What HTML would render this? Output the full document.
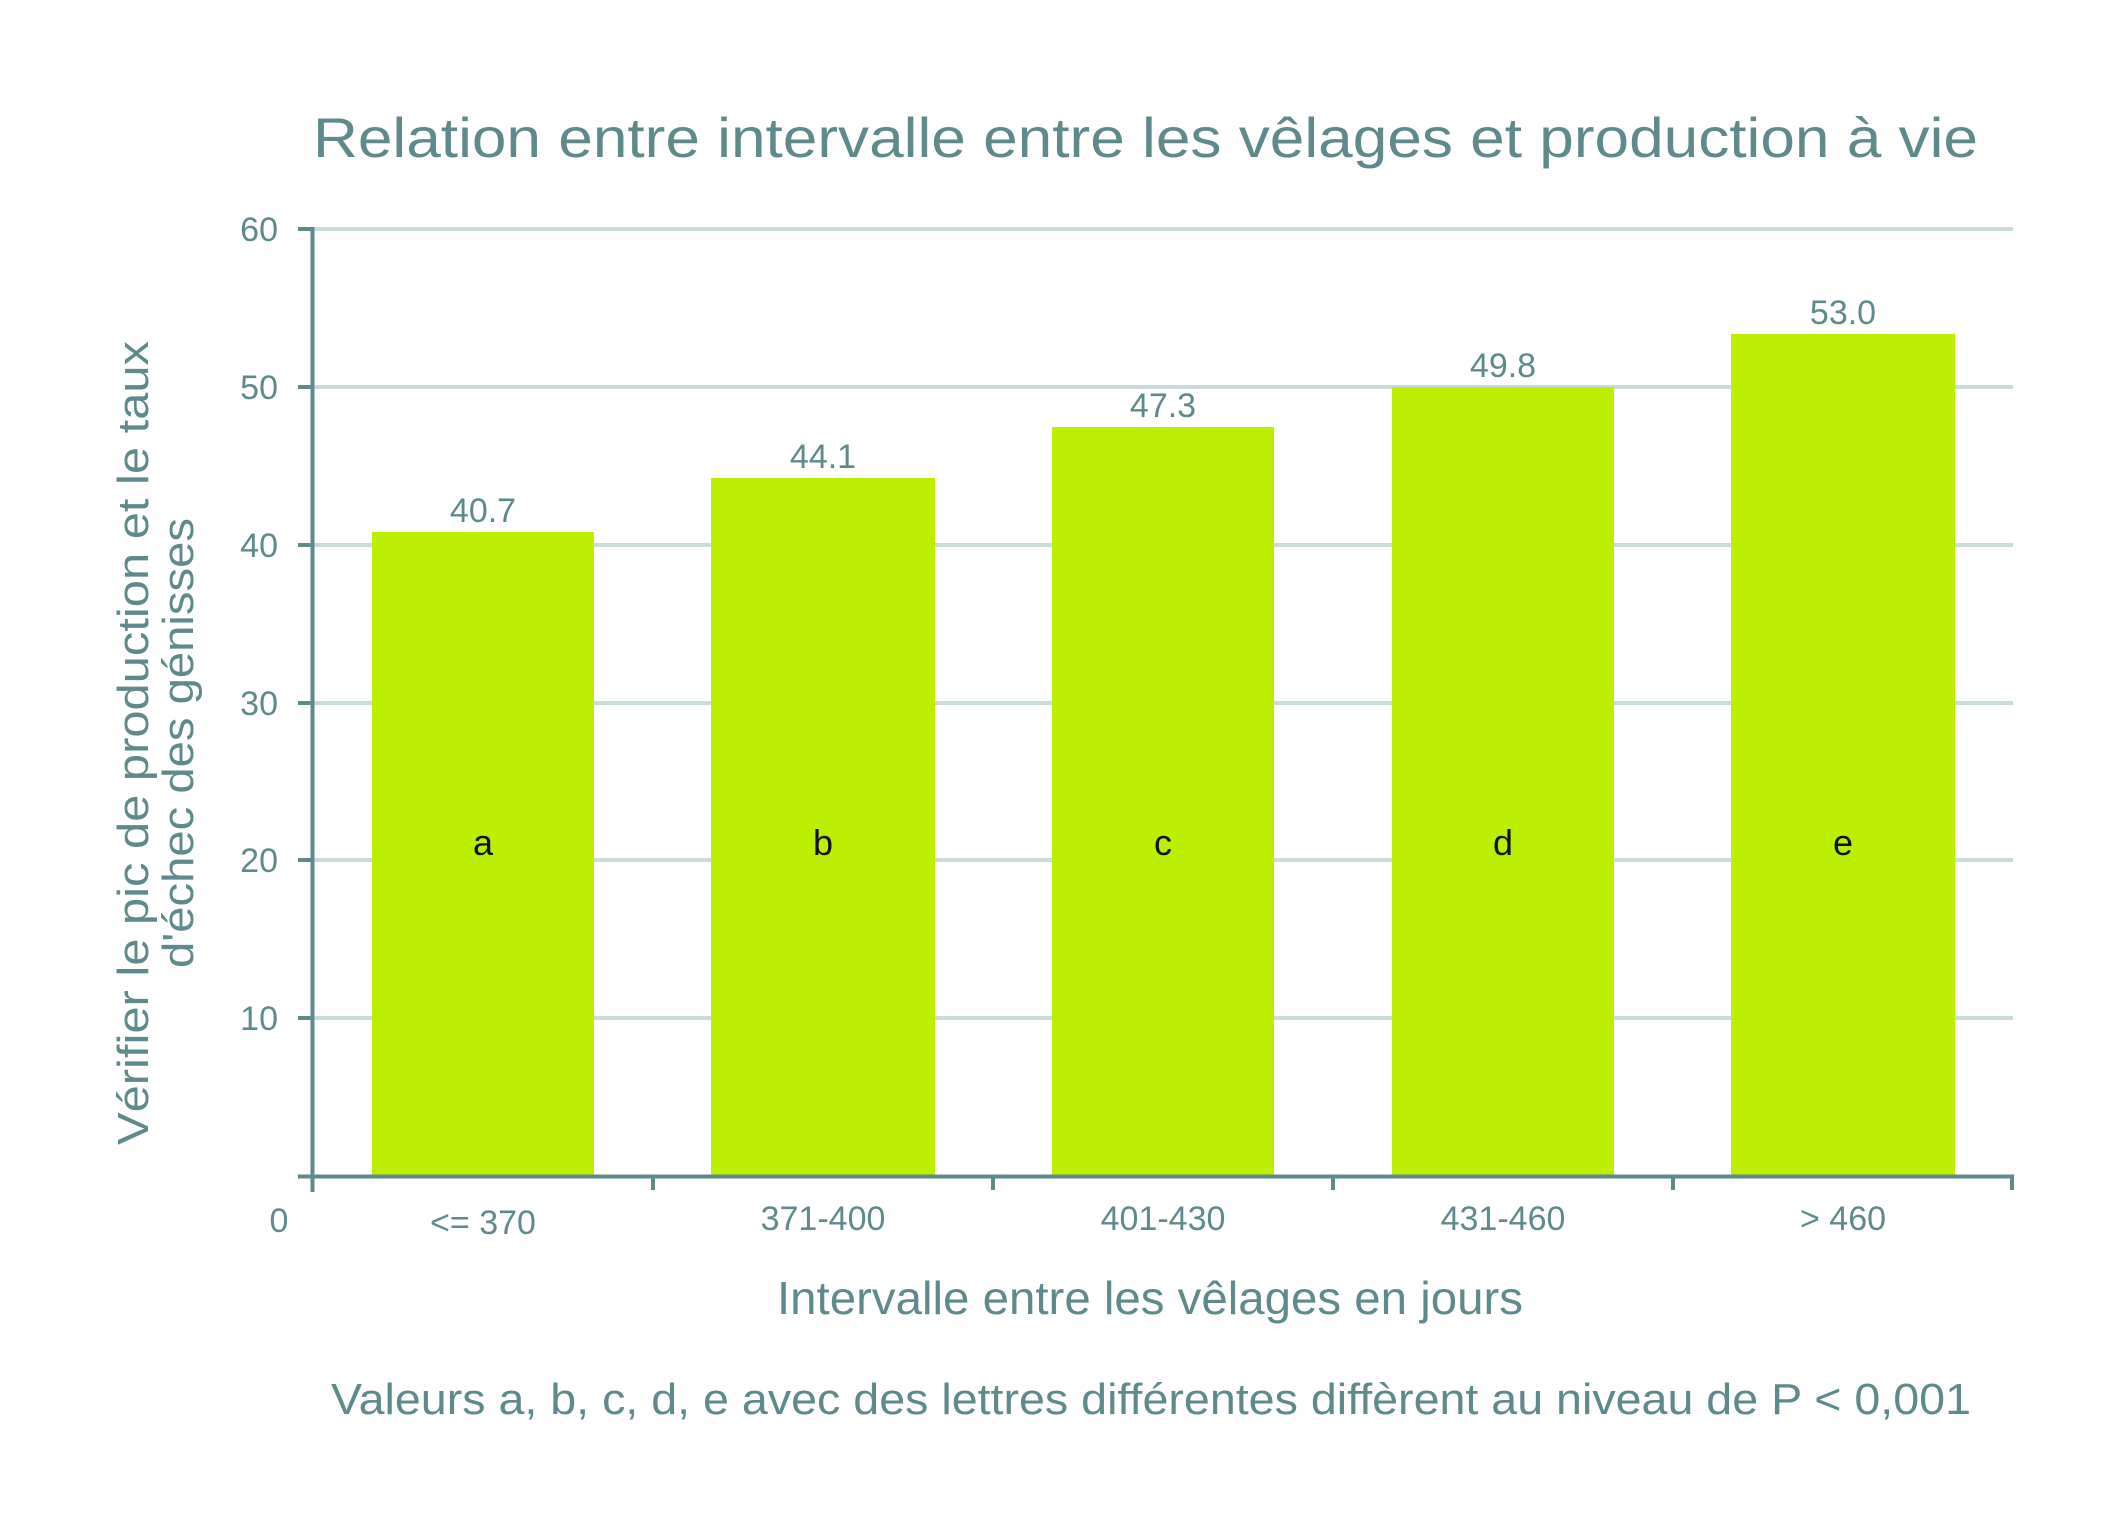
<!DOCTYPE html>
<html><head><meta charset="utf-8"><style>
html,body{margin:0;padding:0;background:#fff;}
svg{display:block;}
text{font-family:"Liberation Sans",sans-serif;fill:#5f8a8b;}
</style></head><body>
<svg width="2126" height="1535" viewBox="0 0 2126 1535" xmlns="http://www.w3.org/2000/svg">
<rect width="2126" height="1535" fill="#fff"/>
<text x="313" y="157" font-size="56" textLength="1665" lengthAdjust="spacingAndGlyphs">Relation entre intervalle entre les vêlages et production à vie</text>
<g stroke="#cbdada" stroke-width="4">
<line x1="312" y1="229" x2="2013" y2="229"/>
<line x1="312" y1="387" x2="2013" y2="387"/>
<line x1="312" y1="545" x2="2013" y2="545"/>
<line x1="312" y1="703" x2="2013" y2="703"/>
<line x1="312" y1="860" x2="2013" y2="860"/>
<line x1="312" y1="1018" x2="2013" y2="1018"/>
</g>
<g fill="#bcef03">
<rect x="372" y="532" width="222" height="644"/>
<rect x="711" y="478" width="224" height="698"/>
<rect x="1052" y="427" width="222" height="749"/>
<rect x="1392" y="387" width="222" height="789"/>
<rect x="1731" y="334" width="224" height="842"/>
</g>
<g stroke="#5f8a8b" stroke-width="4" fill="none">
<line x1="312.5" y1="227" x2="312.5" y2="1192"/>
<line x1="298" y1="1176.5" x2="2014" y2="1176.5"/>
<line x1="298" y1="229" x2="312" y2="229"/>
<line x1="298" y1="387" x2="312" y2="387"/>
<line x1="298" y1="545" x2="312" y2="545"/>
<line x1="298" y1="703" x2="312" y2="703"/>
<line x1="298" y1="860" x2="312" y2="860"/>
<line x1="298" y1="1018" x2="312" y2="1018"/>
<line x1="653" y1="1176" x2="653" y2="1190"/>
<line x1="993" y1="1176" x2="993" y2="1190"/>
<line x1="1333" y1="1176" x2="1333" y2="1190"/>
<line x1="1673" y1="1176" x2="1673" y2="1190"/>
<line x1="2012" y1="1176" x2="2012" y2="1190"/>
</g>
<g font-size="34" text-anchor="end">
<text x="278" y="241">60</text>
<text x="278" y="399">50</text>
<text x="278" y="557">40</text>
<text x="278" y="715">30</text>
<text x="278" y="872">20</text>
<text x="278" y="1030">10</text>
</g>
<text x="279" y="1232" font-size="34" text-anchor="middle">0</text>
<g font-size="34" text-anchor="middle">
<text x="483" y="1234">&lt;= 370</text>
<text x="823" y="1230">371-400</text>
<text x="1163" y="1230">401-430</text>
<text x="1503" y="1230">431-460</text>
<text x="1843" y="1230">&gt; 460</text>
<text x="483" y="522">40.7</text>
<text x="823" y="468">44.1</text>
<text x="1163" y="417">47.3</text>
<text x="1503" y="377">49.8</text>
<text x="1843" y="324">53.0</text>
</g>
<g font-size="36" text-anchor="middle">
<text x="483" y="855" style="fill:#111">a</text>
<text x="823" y="855" style="fill:#111">b</text>
<text x="1163" y="855" style="fill:#111">c</text>
<text x="1503" y="855" style="fill:#111">d</text>
<text x="1843" y="855" style="fill:#111">e</text>
</g>
<text x="777" y="1314" font-size="46" textLength="746" lengthAdjust="spacingAndGlyphs">Intervalle entre les vêlages en jours</text>
<text x="331" y="1414" font-size="44" textLength="1640" lengthAdjust="spacingAndGlyphs">Valeurs a, b, c, d, e avec des lettres différentes diffèrent au niveau de P &lt; 0,001</text>
<text transform="translate(148,743) rotate(-90)" font-size="44" text-anchor="middle" textLength="804" lengthAdjust="spacingAndGlyphs">Vérifier le pic de production et le taux</text>
<text transform="translate(193,743) rotate(-90)" font-size="44" text-anchor="middle" textLength="450" lengthAdjust="spacingAndGlyphs">d'échec des génisses</text>
</svg>
</body></html>
